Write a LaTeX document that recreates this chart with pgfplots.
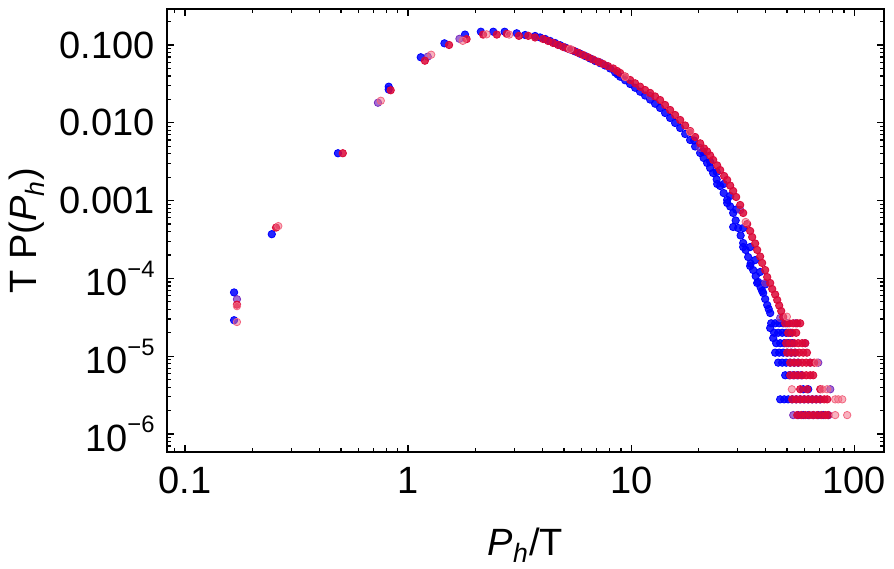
\documentclass[border=0pt]{standalone}
\usepackage{fontspec}
\setmainfont{Liberation Sans}
\usepackage{pgfplots}
\pgfplotsset{compat=1.18}
\definecolor{cblue}{rgb}{0,0,1}
\definecolor{cpurple}{rgb}{0.48,0.18,0.75}
\definecolor{cred}{rgb}{0.86,0.03,0.22}
\definecolor{cpink}{rgb}{0.95,0.4,0.5}
\newcommand{\sci}[1]{10\raisebox{9.2pt}{\fontsize{11.9}{11.9}\selectfont −#1}}

\pgfplotstableread{
x y
0.166 6.6e-5
0.166 2.9e-5
0.245 3.7e-4
0.485 4.06e-3
0.819 0.0291
0.819 0.0268
1.14 0.0695
1.456 0.105
1.80 0.136
2.12 0.148
2.41 0.148
2.71 0.148
3.07 0.1414
3.35 0.1344
3.71 0.1305
3.908 0.1249
4.12 0.1194
4.334 0.1126
4.56 0.1061
4.805 0.0994
5.06 0.0929
5.327 0.0876
5.61 0.0825
5.906 0.0773
6.22 0.0722
6.549 0.0671
6.90 0.0623
7.261 0.0584
7.64 0.0545
8.050 0.0499
8.48 0.0443
8.70 0.0418
8.93 0.0391
9.40 0.0352
9.90 0.0315
10.42 0.0282
10.97 0.0251
11.55 0.0224
12.17 0.0199
12.81 0.0176
13.49 0.0155
14.20 0.01337
14.96 0.01153
15.75 0.00994
16.59 0.00857
17.47 0.00718
18.39 0.00601
19.16 0.00592
19.36 0.00496
20.39 0.00409
21.03 0.00424
21.14 0.00353
21.92 0.00304
22.61 0.00262
22.61 0.00315
23.32 0.00226
24.18 0.00187
24.18 0.00233
24.31 0.001634
25.07 0.00154
25.99 0.00125
25.99 0.001634
26.95 0.00102
26.95 0.000931
27.80 0.000840
27.80 0.001146
28.67 0.000693
28.67 0.000458
29.42 0.000555
29.57 0.000768
30.19 0.000444
30.97 0.000356
31.79 0.000285
31.79 0.000253
31.79 0.000444
32.62 0.000232
33.47 0.000188
34.17 0.0001443
34.17 0.000253
34.35 0.000155
35.25 0.000128
35.98 0.000172
36.17 0.000107
36.73 0.0000873
37.11 0.0000899
37.88 0.000121
38.08 0.0000764
38.67 0.0000689
39.08 0.0000649
39.90 0.0000543
39.90 0.0000835
40.73 0.0000455
41.37 0.0000404
42.01 0.0000359
42.01 0.0000230
43.35 0.0000171
42.45 2.65e-5
44.23 2.65e-5
46.10 2.65e-5
48.05 2.65e-5
50.07 2.65e-5
43.78 2.0e-5
45.62 2.0e-5
47.56 2.0e-5
49.56 2.0e-5
51.65 2.0e-5
44.69 1.47e-5
46.58 1.47e-5
48.55 1.47e-5
50.60 1.47e-5
52.73 1.47e-5
44.23 1.11e-5
46.10 1.11e-5
48.05 1.11e-5
50.07 1.11e-5
52.18 1.11e-5
54.37 1.11e-5
45.62 8.26e-6
47.56 8.26e-6
49.56 8.26e-6
51.65 8.26e-6
53.83 8.26e-6
56.10 8.26e-6
49.05 5.69e-6
51.12 5.69e-6
53.29 5.69e-6
55.53 5.69e-6
57.87 5.69e-6
59.07 3.76e-6
62.21 3.76e-6
46.58 2.79e-6
48.55 2.79e-6
50.60 2.79e-6
52.73 2.79e-6
54.96 2.79e-6
57.27 2.79e-6
59.69 2.79e-6
62.21 2.79e-6
64.84 2.79e-6
67.57 2.79e-6
70.43 2.79e-6
56.10 1.75e-6
59.07 1.75e-6
62.21 1.75e-6
65.51 1.75e-6
68.99 1.75e-6
72.65 1.75e-6
76.50 1.75e-6
}\blueT

\pgfplotstableread{
x y
0.171 5.4e-5
0.733 0.0181
1.225 0.0708
1.70 0.120
7.261 0.0596
12.17 0.0221
20.39 0.00474
30.82 0.000757
39.90 0.0000873
46.58 0.0000310
54.7 2.65e-5
60.3 1.47e-5
63.5 8.26e-6
69.0 8.26e-6
78.1 3.76e-6
53.3 1.75e-6
}\purpleT

\pgfplotstableread{
x y
0.171 4.6e-5
0.256 4.5e-4
0.51 4.06e-3
0.836 0.0262
1.19 0.0628
1.527 0.100
1.83 0.119
2.17 0.136
2.50 0.136
2.77 0.139
3.14 0.131
3.46 0.131
3.71 0.1249
4.03 0.1194
4.245 0.1126
4.47 0.1061
4.706 0.1000
4.96 0.0943
5.219 0.0896
5.49 0.0850
5.785 0.0796
6.09 0.0744
6.415 0.0697
6.75 0.0651
7.112 0.0610
7.49 0.0570
7.885 0.0534
8.31 0.0499
8.653 0.0463
8.93 0.0437
9.40 0.0394
9.90 0.0355
10.42 0.0322
10.97 0.0291
11.55 0.0264
12.17 0.0242
12.81 0.0218
13.49 0.0196
14.20 0.01694
14.96 0.0146
15.75 0.01260
16.59 0.01086
17.47 0.00923
18.39 0.00784
19.36 0.00657
20.39 0.00545
21.25 0.00467
21.92 0.00428
22.61 0.00380
23.32 0.00333
24.31 0.00283
25.07 0.00247
26.12 0.00207
26.95 0.00184
27.80 0.00156
28.67 0.00133
29.57 0.001112
30.82 0.000878
31.79 0.000693
33.13 0.000500
34.17 0.000407
34.88 0.000340
35.98 0.000281
36.73 0.000232
37.88 0.000191
38.67 0.000158
39.90 0.000128
40.73 0.000104
42.01 0.0000873
42.89 0.0000731
44.23 0.0000621
45.16 0.0000528
46.10 0.0000448
47.06 0.0000381
48.05 0.0000319
49.05 2.65e-5
51.12 2.65e-5
53.29 2.65e-5
55.53 2.65e-5
57.27 2.65e-5
50.60 2.0e-5
52.73 2.0e-5
54.96 2.0e-5
49.56 1.47e-5
51.65 1.47e-5
53.83 1.47e-5
56.10 1.47e-5
58.47 1.47e-5
60.30 1.47e-5
50.07 1.11e-5
52.18 1.11e-5
54.37 1.11e-5
56.68 1.11e-5
59.07 1.11e-5
61.40 1.11e-5
51.65 8.26e-6
53.83 8.26e-6
56.10 8.26e-6
58.47 8.26e-6
60.94 8.26e-6
63.51 8.26e-6
66.19 8.26e-6
51.65 5.69e-6
53.83 5.69e-6
56.10 5.69e-6
58.47 5.69e-6
60.94 5.69e-6
63.51 5.69e-6
65.50 5.69e-6
57.27 3.76e-6
61.57 3.76e-6
70.43 3.76e-6
52.73 2.79e-6
54.96 2.79e-6
57.27 2.79e-6
59.69 2.79e-6
62.21 2.79e-6
64.84 2.79e-6
67.57 2.79e-6
70.43 2.79e-6
73.41 2.79e-6
75.70 2.79e-6
55.53 1.75e-6
57.87 1.75e-6
60.30 1.75e-6
62.86 1.75e-6
65.51 1.75e-6
68.28 1.75e-6
71.16 1.75e-6
74.16 1.75e-6
76.50 1.75e-6
}\redT

\pgfplotstableread{
x y
0.171 4.4e-5
0.171 2.75e-5
0.262 4.7e-4
0.755 0.0192
1.27 0.075
1.76 0.113
2.25 0.137
2.84 0.136
5.327 0.0888
9.40 0.0388
18.39 0.00762
32.62 0.000531
49.9 0.0000322
52.55 3.76e-6
71.9 3.76e-6
75.6 3.76e-6
67.9 8.26e-6
82.2 2.79e-6
84.8 2.79e-6
88.4 2.79e-6
82.2 1.75e-6
93.0 1.75e-6
}\pinkT

\begin{document}
\begin{tikzpicture}
\begin{axis}[
  at={(0,0)}, anchor=south west,
  scale only axis, width=358.65pt, height=221.5pt,
  xmode=log, ymode=log,
  xmin=0.0828, xmax=136, ymin=5.87e-7, ymax=0.29,
  xtick={0.1,1,10,100}, xticklabels={0.1,1,10,100},
  minor xtick={0.09,0.2,0.3,0.4,0.5,0.6,0.7,0.8,0.9,2,3,4,5,6,7,8,9,20,30,40,50,60,70,80,90},
  ytick={1e-6,1e-5,1e-4,1e-3,1e-2,1e-1},
  yticklabels={\sci{6},\sci{5},\sci{4},0.001,0.010,0.100},
  minor ytick={6e-7,7e-7,8e-7,9e-7,2e-6,3e-6,4e-6,5e-6,6e-6,7e-6,8e-6,9e-6,2e-5,3e-5,4e-5,5e-5,6e-5,7e-5,8e-5,9e-5,2e-4,3e-4,4e-4,5e-4,6e-4,7e-4,8e-4,9e-4,0.002,0.003,0.004,0.005,0.006,0.007,0.008,0.009,0.02,0.03,0.04,0.05,0.06,0.07,0.08,0.09,0.2},
  tick align=inside,
  major tick length=3.5pt, minor tick length=2pt,
  every tick/.style={black, line width=0.6pt},
  axis line style={line width=1pt},
  tick label style={font=\fontsize{19}{19}\selectfont},
  xticklabel style={inner sep=0pt, anchor=north, yshift=-7.3pt},
  yticklabel style={inner sep=0pt, anchor=east, xshift=-5.85pt},
  xlabel={\textit{P}\textsubscript{\textit{h}}/T},
  ylabel={T P(\textit{P}\textsubscript{\textit{h}})},
  every axis x label/.style={at={(axis description cs:0.5,-0.2325)}, anchor=base, font=\fontsize{19}{19}\selectfont},
  every axis y label/.style={at={(axis description cs:-0.1812,0.5)}, anchor=base, rotate=90, font=\fontsize{19}{19}\selectfont},
]
\addplot[only marks, mark=*, mark size=1.85pt, color=cblue, mark options={draw=none, fill opacity=0.85}] table {\blueT};
\addplot[only marks, mark=*, mark size=1.85pt, color=cpurple, mark options={draw=none, fill opacity=0.7}] table {\purpleT};
\addplot[only marks, mark=*, mark size=1.85pt, color=cred, mark options={draw=none, fill opacity=0.85}] table {\redT};
\addplot[only marks, mark=*, mark size=1.85pt, color=cpink, mark options={draw=none, fill opacity=0.5}] table {\pinkT};
\end{axis}
\pgfresetboundingbox
\useasboundingbox (-83.35pt,-58pt) rectangle (363.65pt,226pt);
\end{tikzpicture}
\end{document}
